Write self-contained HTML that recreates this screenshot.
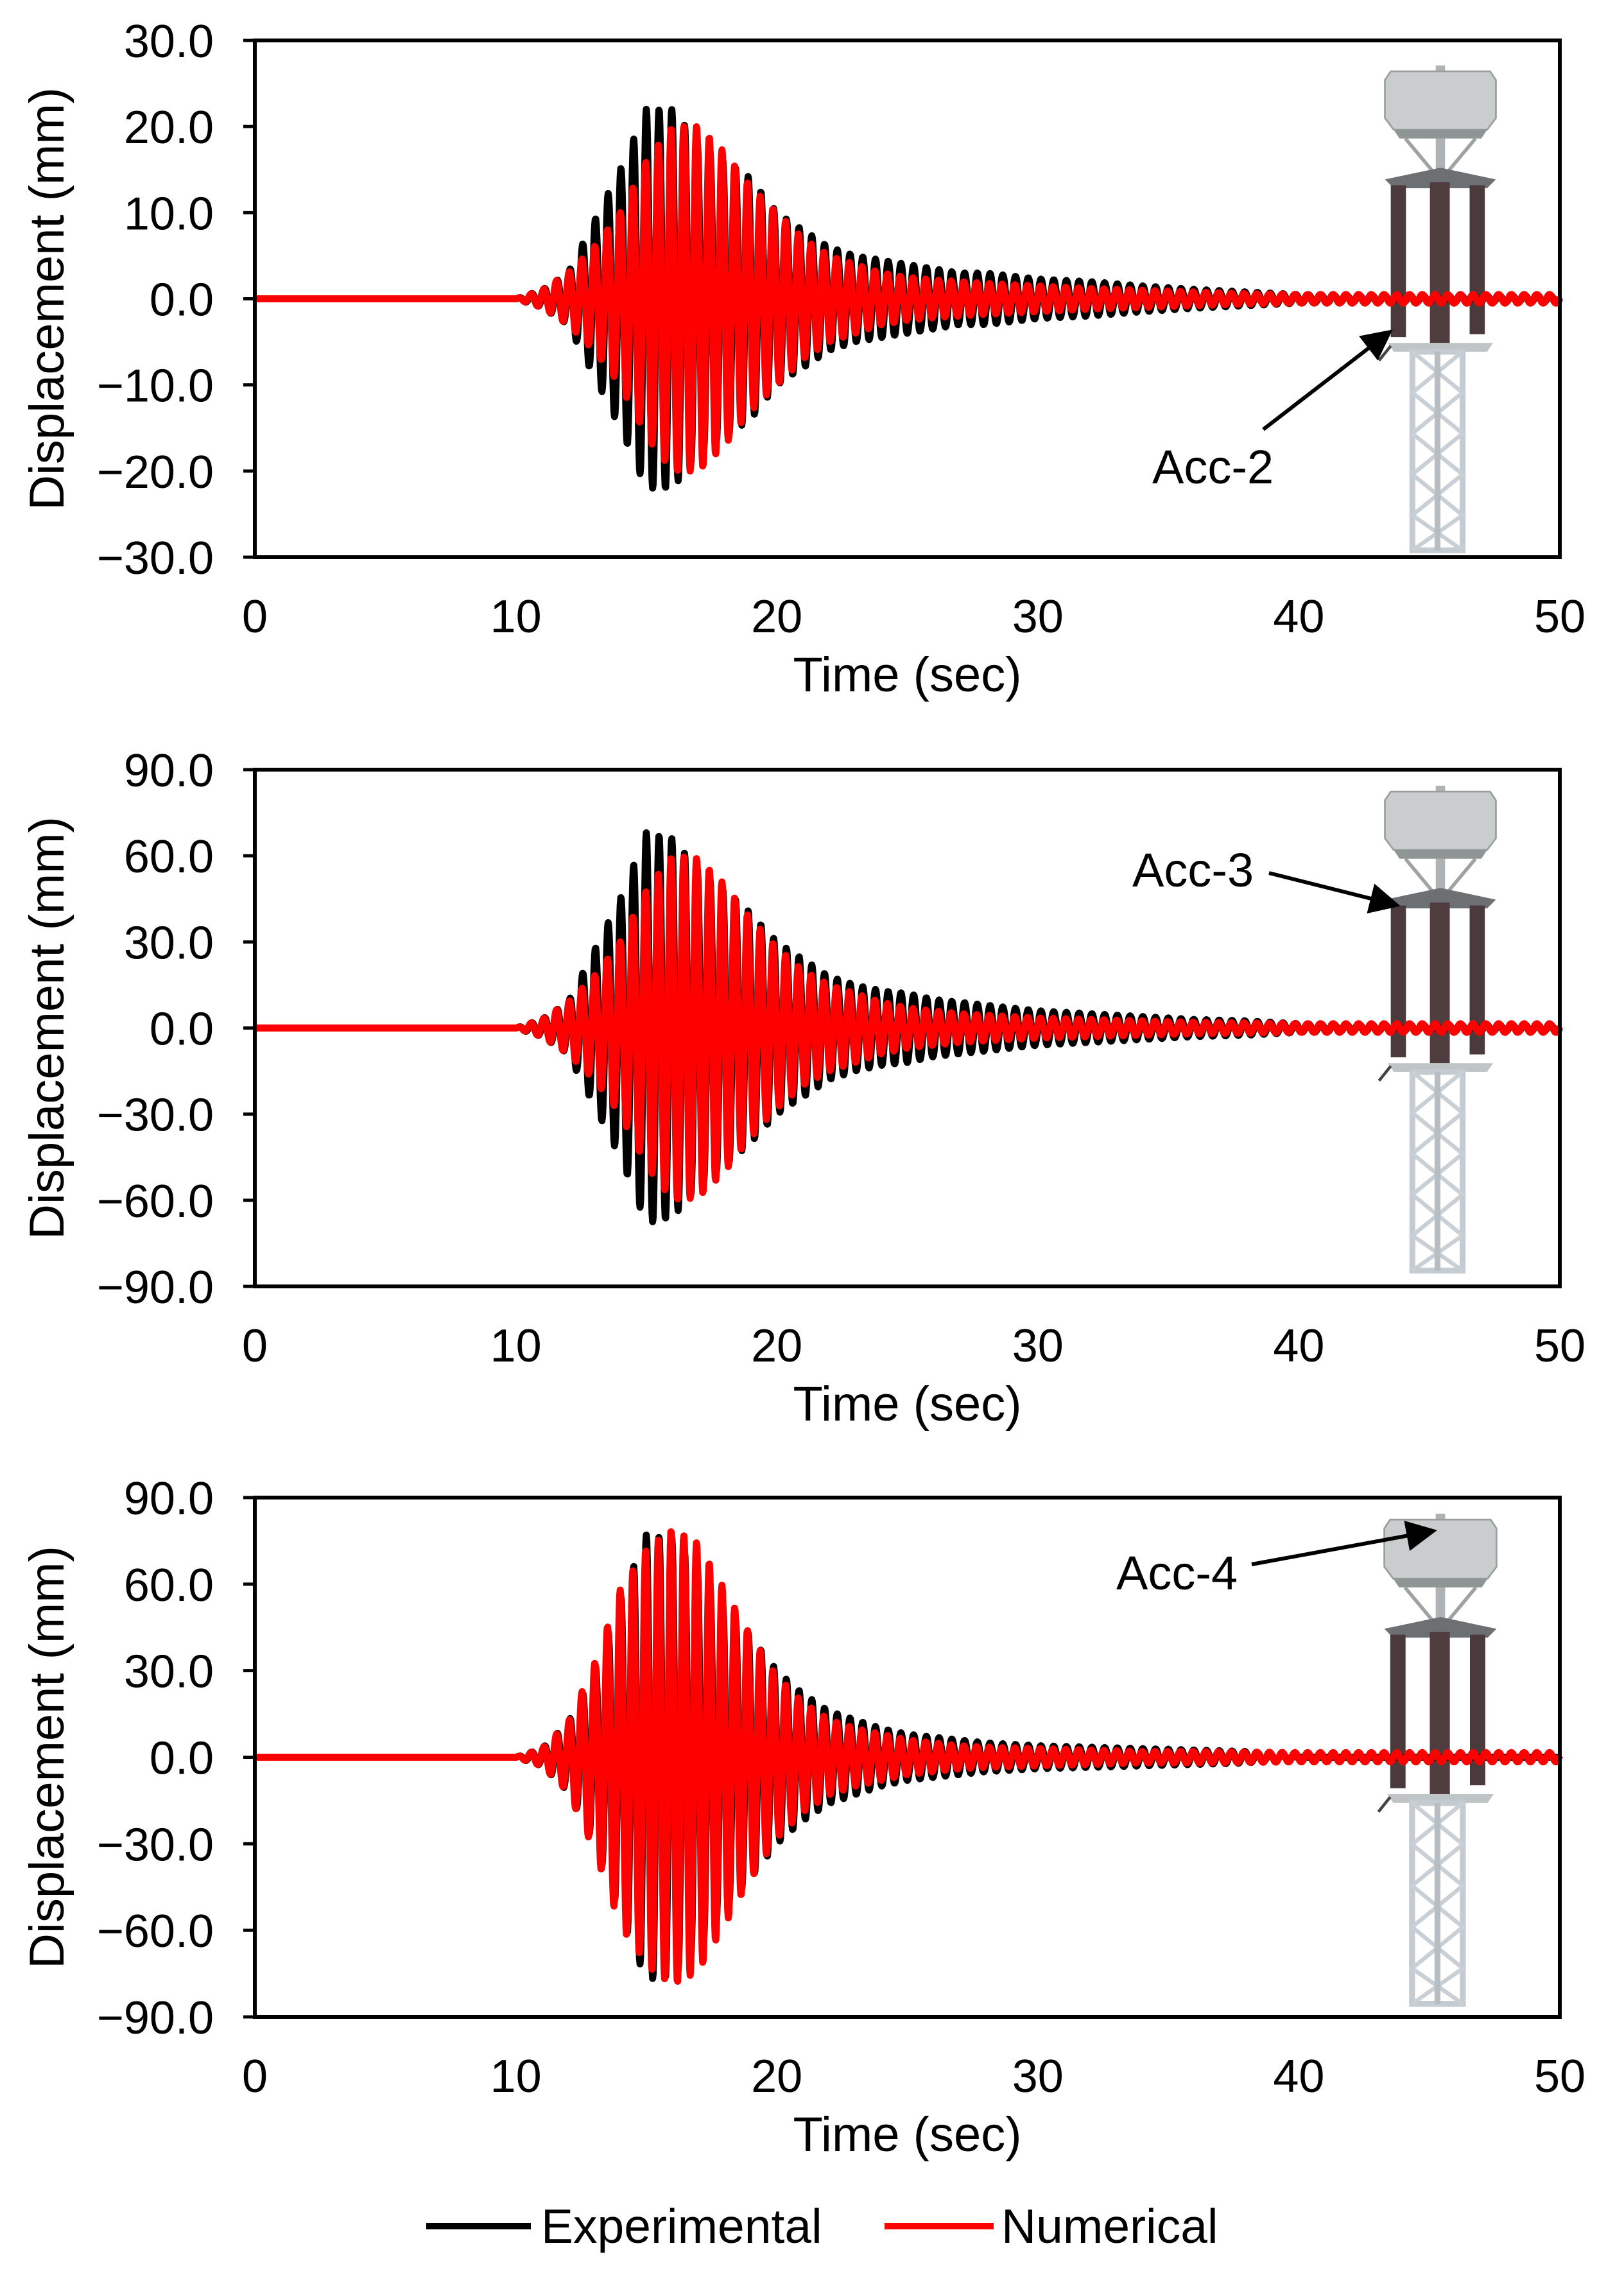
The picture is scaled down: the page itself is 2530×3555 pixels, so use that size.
<!DOCTYPE html>
<html><head><meta charset="utf-8">
<style>
html,body{margin:0;padding:0;background:#fff;}
svg{display:block;}
text{font-family:"Liberation Sans",Arial,sans-serif;fill:#000;}
</style></head>
<body>
<svg id="fig" width="2530" height="3555" viewBox="0 0 2530 3555" xmlns="http://www.w3.org/2000/svg">
<defs>
<marker id="ah" markerWidth="8" markerHeight="8" refX="7" refY="4" orient="auto" markerUnits="strokeWidth">
<path d="M0,0 L8,4 L0,8 z" fill="#000"/></marker>
<g id="tower">
 <rect x="-8" y="0" width="16" height="210" fill="#aeb2b4"/>
 <path d="M-85,10 L85,10 L95,25 L95,90 L80,110 L-80,110 L-95,90 L-95,25 Z" fill="#c9cdcd" stroke="#9a9e9e" stroke-width="3"/>
 <path d="M-80,110 L80,110 L70,125 L-70,125 Z" fill="#8f9494"/>
 <path d="M-60,125 L-10,185 M60,125 L10,185" stroke="#9ea2a2" stroke-width="6"/>
 <path d="M-95,195 L0,175 L95,195 L80,210 L-80,210 Z" fill="#6d7073"/>
 <rect x="-85" y="205" width="26" height="260" fill="#4a3a3c"/>
 <rect x="-18" y="200" width="34" height="275" fill="#4f3d40"/>
 <rect x="50" y="205" width="26" height="255" fill="#4a3a3c"/>
 <path d="M-90,475 L90,475 L80,490 L-80,490 Z" fill="#bfc4c6"/>
 <path d="M-105,505 L-85,480" stroke="#444" stroke-width="5"/>
 <rect x="-48" y="490" width="86" height="340" fill="none" stroke="#c4ccd2" stroke-width="10"/>
 <path d="M-48,490 L38,560 L-48,630 L38,700 L-48,770 L38,830 M38,490 L-48,560 L38,630 L-48,700 L38,770 L-48,830" stroke="#c8d0d6" stroke-width="7" fill="none"/>
 <rect x="-10" y="490" width="10" height="340" fill="#b6bec4"/>
</g>
</defs>
<g id="panels"></g>
<g>
 <line x1="664" y1="3468" x2="827" y2="3468" stroke="#000" stroke-width="10"/>
 <text x="843" y="3494" font-size="75">Experimental</text>
 <line x1="1378" y1="3468" x2="1548" y2="3468" stroke="#ff0000" stroke-width="10"/>
 <text x="1560" y="3494" font-size="75">Numerical</text>
</g>
</svg>
<script>
// ---- data (envelope amplitudes in mm at envTimes, sec) ----
const envTimes = [0,10,11,12,13,14,15,16,17,18,19,20,21,22,23,24,25,26,27,28,30,32,34,36,38,40,42,44,46,48,50];
const freqHz = 2.05;
const p1Exp = [0,0,1,3,9,15,22,22,18,16,14,10,8,6,5,4.5,4,3.5,3,3,2.3,2,1.5,1.1,0.8,0.5,0.4,0.4,0.4,0.4,0.4];
const p1Num = [0,0,1,3,6,10,16,20,20,17,13,10,7,5,4,3,2.5,2.2,2,1.8,1.5,1.2,1,0.8,0.6,0.5,0.5,0.5,0.5,0.5,0.5];
const p2Exp = [0,0,3,9,27,45,68,66,55,48,40,30,24,18,15,13,12,10,9,8,6,5,4,3,2.5,1.5,1.2,1.2,1.2,1.2,1.2];
const p2Num = [0,0,3,9,18,30,48,60,59,50,38,28,20,15,12,9,7,6,5,4.5,3.5,3,2.5,2,1.8,1.5,1.5,1.5,1.5,1.5,1.5];
const p3Exp = [0,0,3,12,30,55,77,76,66,52,42,30,22,16,13,10,8,7,6,5,4,3.5,3,2.5,2,0,0,0,0,0,0];
const p3Num = [0,0,3,12,32,58,72,79,74,58,42,28,19,13,10,8,6,5,4,3.5,3,2.5,2,2,1.8,1.6,1.6,1.6,1.6,1.6,1.6];
const xTicks = [0,10,20,30,40,50];
const yTicks1 = ["30.0","20.0","10.0","0.0","\u221210.0","\u221220.0","\u221230.0"];
const yTicks2 = ["90.0","60.0","30.0","0.0","\u221230.0","\u221260.0","\u221290.0"];
const yTicks3 = ["90.0","60.0","30.0","0.0","\u221230.0","\u221260.0","\u221290.0"];
const yMax = [30,90,90];
const labels = ["Acc-2","Acc-3","Acc-4"];

const NS="http://www.w3.org/2000/svg";
const L=397,R=2430;
const panels=[
 {top:63,bot:868,exp:p1Exp,num:p1Num,ticks:yTicks1,ym:yMax[0],label:labels[0],lx:1795,ly:753,a:[1968,669,2165,517],tw:[2244,102,0.91]},
 {top:1199,bot:2004,exp:p2Exp,num:p2Num,ticks:yTicks2,ym:yMax[1],label:labels[1],lx:1764,ly:1381,a:[1977,1360,2176,1410],tw:[2244,1224,0.91]},
 {top:2333,bot:3142,exp:p3Exp,num:p3Num,ticks:yTicks3,ym:yMax[2],label:labels[2],lx:1739,ly:2476,a:[1950,2437,2233,2385],tw:[2244,2358,0.92]}
];
function env(arr,t){
 for(let i=0;i<envTimes.length-1;i++){
  if(t>=envTimes[i]&&t<=envTimes[i+1]){const f=(t-envTimes[i])/(envTimes[i+1]-envTimes[i]);return arr[i]+(arr[i+1]-arr[i])*f;}
 }
 return arr[arr.length-1];
}
function mk(tag,attrs,parent){const e=document.createElementNS(NS,tag);for(const k in attrs)e.setAttribute(k,attrs[k]);parent.appendChild(e);return e;}
const root=document.getElementById('panels');
panels.forEach((p,pi)=>{
 const g=mk('g',{},root);
 
 
 const xs=t=>L+(R-L)*t/50;
 const ys=v=>(p.top+p.bot)/2-(p.bot-p.top)/2*v/p.ym;
 const tw=mk('use',{href:'#tower',transform:`translate(${p.tw[0]},${p.tw[1]}) scale(${p.tw[2]})`},g);
 
 
 [[p.exp,'#000','experimental-series',0],[p.num,'#ff0000','numerical-series',0.35]].forEach(s=>{
  let d='';
  for(let t=0;t<=50.0001;t+=0.02){
   const v=t<10?0:env(s[0],t)*Math.sin(2*Math.PI*freqHz*(t-10)+s[3]);
   d+=(d?'L':'M')+xs(t).toFixed(1)+','+ys(v).toFixed(1);
  }
  const path=mk('path',{d:d,fill:'none',stroke:s[1],'stroke-width':11,'stroke-linejoin':'round'},g);
  
  
 });
 const fr=mk('rect',{x:L,y:p.top,width:R-L,height:p.bot-p.top,fill:'none',stroke:'#000','stroke-width':6},g);
 
 
 p.ticks.forEach((lab,i)=>{
  const y=p.top+(p.bot-p.top)*i/(p.ticks.length-1);
  mk('line',{x1:L-18,x2:L,y1:y,y2:y,stroke:'#000','stroke-width':5},g);
  const tx=mk('text',{x:333,y:y+26,'font-size':72,'text-anchor':'end'},g);
  tx.textContent=lab;
  
  
 });
 xTicks.forEach(v=>{
  const tx=mk('text',{x:xs(v),y:p.bot+117,'font-size':72,'text-anchor':'middle'},g);
  tx.textContent=v;
  
  
 });
 const xt=mk('text',{x:(L+R)/2,y:p.bot+209,'font-size':76,'text-anchor':'middle'},g);
 xt.textContent='Time (sec)';
 
 
 const cy=(p.top+p.bot)/2;
 const yt=mk('text',{x:0,y:0,'font-size':76,'text-anchor':'middle',transform:`translate(99,${cy}) rotate(-90)`},g);
 yt.textContent='Displacement (mm)';
 
 
 const al=mk('text',{x:p.lx,y:p.ly,'font-size':74},g);
 al.textContent=p.label;
 
 
 const ar=mk('line',{x1:p.a[0],y1:p.a[1],x2:p.a[2],y2:p.a[3],stroke:'#000','stroke-width':6,'marker-end':'url(#ah)'},g);
 
 
});
</script>
</body></html>
